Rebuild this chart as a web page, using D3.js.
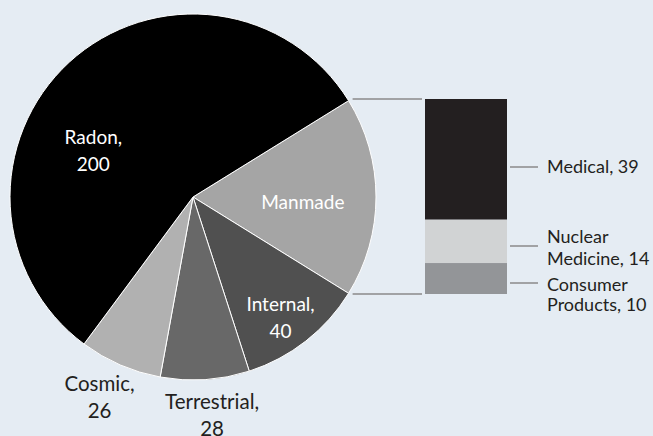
<!DOCTYPE html>
<html>
<head>
<meta charset="utf-8">
<script src="https://cdn.jsdelivr.net/npm/d3@7"></script>
<style>
  html, body { margin: 0; padding: 0; background: #e5ecf3; }
  svg { display: block; }
</style>
</head>
<body>
<div id="chart"></div>
<script>
// pie slices, in drawing order (clockwise, starting with Manmade on the right)
const pieNames  = ["Manmade", "Internal", "Terrestrial", "Cosmic", "Radon"];
const pieValues = [63, 40, 28, 26, 200];
const pieLabels = [["Manmade"], ["Internal,", "40"], ["Terrestrial,", "28"], ["Cosmic,", "26"], ["Radon,", "200"]];

// breakdown of the manmade slice (stacked bar)
const barNames  = ["Medical", "Nuclear Medicine", "Consumer Products"];
const barValues = [39, 14, 10];
const barLabels = [["Medical, 39"], ["Nuclear", "Medicine, 14"], ["Consumer", "Products, 10"]];

const width = 653, height = 436;
const cx = 193, cy = 197, radius = 183;

const pieColors = ["#a5a5a5", "#505050", "#686868", "#b1b1b1", "#000000"];
const barColors = ["#231f20", "#d1d3d4", "#939598"];

// label anchors: [screen angle deg, distance px, colour, font size]
const pieLabelPos = [
    [3, 110, "#fff", 19],
    [54, 149, "#fff", 19],
    [85, 219, "#231f20", 20.5],
    [115, 221, "#231f20", 20.5],
    [205, 110, "#fff", 19]
];

const svg = d3.select("#chart").append("svg")
    .attr("width", width)
    .attr("height", height);

svg.append("rect").attr("width", width).attr("height", height).attr("fill", "#e5ecf3");

const total = d3.sum(pieValues);
const manmadeAngle = pieValues[0] / total * 2 * Math.PI;

// d3 angles run clockwise from 12 o'clock; centre Manmade on 3 o'clock
const pie = d3.pie()
    .sort(null)
    .value(d => d)
    .startAngle(Math.PI / 2 - manmadeAngle / 2)
    .endAngle(Math.PI / 2 - manmadeAngle / 2 + 2 * Math.PI);

const arcs = pie(pieValues);
const arc = d3.arc().innerRadius(0).outerRadius(radius);

const g = svg.append("g").attr("transform", `translate(${cx},${cy})`);

g.selectAll("path")
    .data(arcs)
    .join("path")
    .attr("d", arc)
    .attr("fill", (d, i) => pieColors[i])
    .attr("stroke", "#fff")
    .attr("stroke-width", 1);

const font = "Lato, 'Open Sans', sans-serif";

// pie labels
pieLabels.forEach((lines, i) => {
    const a = pieLabelPos[i][0] * Math.PI / 180;
    const r = pieLabelPos[i][1];
    const x = Math.cos(a) * r, y = Math.sin(a) * r;
    const lh = 27;
    const t = g.append("text")
        .attr("text-anchor", "middle")
        .attr("font-family", font)
        .attr("font-size", pieLabelPos[i][3])
        .attr("fill", pieLabelPos[i][2]);
    lines.forEach((s, j) => {
        t.append("tspan")
            .attr("x", x)
            .attr("y", y + (j - (lines.length - 1) / 2) * lh)
            .attr("dy", "0.35em")
            .text(s);
    });
});

// stacked bar for the manmade breakdown
const barX = 425, barW = 82;
const y = d3.scaleLinear()
    .domain([0, d3.sum(barValues)])
    .range([99, 294]);

const stackStarts = d3.cumsum([0].concat(barValues)).slice(0, barValues.length);

svg.selectAll("rect.bar")
    .data(barValues)
    .join("rect")
    .attr("class", "bar")
    .attr("x", barX)
    .attr("width", barW)
    .attr("y", (d, i) => y(stackStarts[i]))
    .attr("height", d => y(d) - y(0))
    .attr("fill", (d, i) => barColors[i]);

// connector lines from the manmade slice edges to the bar
const a0 = arcs[0].startAngle - Math.PI / 2, a1 = arcs[0].endAngle - Math.PI / 2;
const p0 = [cx + Math.cos(a0) * radius, cy + Math.sin(a0) * radius];
const p1 = [cx + Math.cos(a1) * radius, cy + Math.sin(a1) * radius];

svg.append("line")
    .attr("x1", p0[0] + 4).attr("y1", y(0))
    .attr("x2", barX - 3).attr("y2", y(0))
    .attr("stroke", "#8a8a8a").attr("stroke-width", 1.5);
svg.append("line")
    .attr("x1", p1[0] + 4).attr("y1", y(d3.sum(barValues)))
    .attr("x2", barX - 3).attr("y2", y(d3.sum(barValues)))
    .attr("stroke", "#8a8a8a").attr("stroke-width", 1.5);

// bar labels with short leader lines
const leaderY = [167, 246, 283];
const lineOffsets = [[0], [-9, 13], [2, 22]];
barLabels.forEach((lines, i) => {
    const ly = leaderY[i];
    svg.append("line")
        .attr("x1", barX + barW + 3).attr("x2", barX + barW + 31)
        .attr("y1", ly).attr("y2", ly)
        .attr("stroke", "#8a8a8a").attr("stroke-width", 1.5);
    const t = svg.append("text")
        .attr("font-family", font)
        .attr("font-size", 18)
        .attr("fill", "#231f20");
    lines.forEach((s, j) => {
        t.append("tspan")
            .attr("x", barX + barW + 40)
            .attr("y", ly + lineOffsets[i][j])
            .attr("dy", "0.35em")
            .text(s);
    });
});
</script>
</body>
</html>
